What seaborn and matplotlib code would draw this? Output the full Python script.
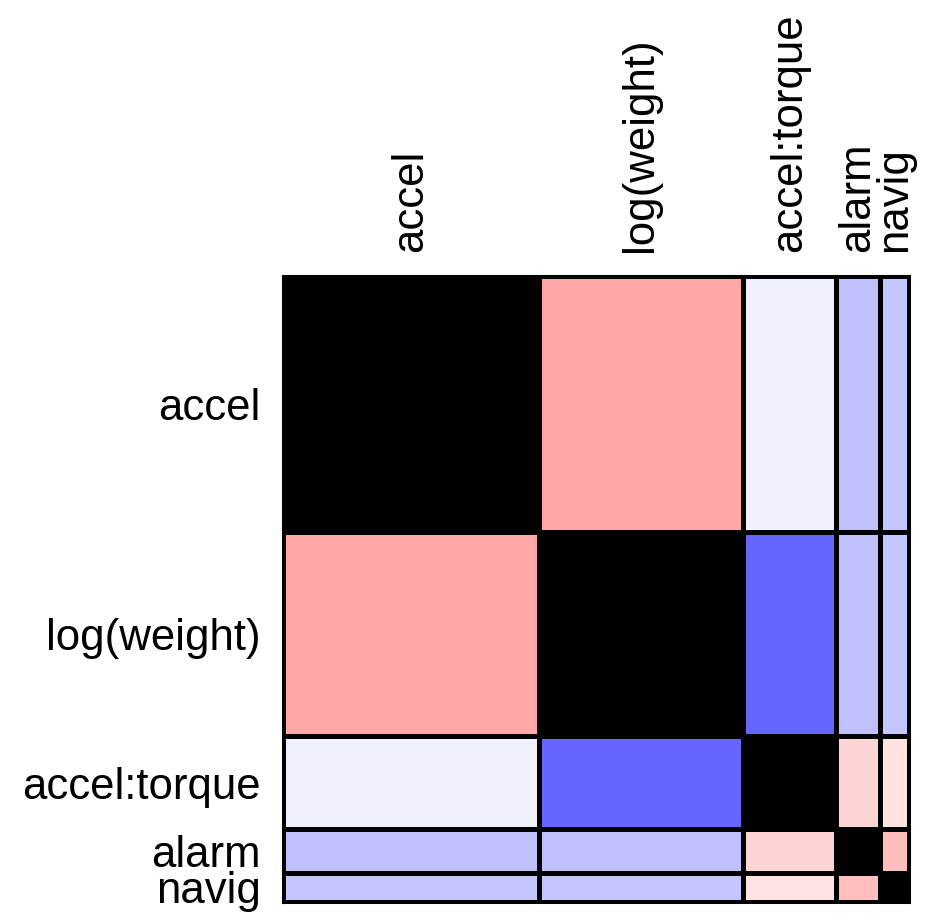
import numpy as np
import matplotlib
matplotlib.use("Agg")
import matplotlib.pyplot as plt
import seaborn as sns
from matplotlib.colors import LinearSegmentedColormap, Normalize

# terms, their relative block sizes, and pairwise correlations
terms = ["accel", "log(weight)", "accel:torque", "alarm", "navig"]
sizes = [256, 204, 93, 44, 29]
corr = [
    [1.00, 0.34, -0.06, -0.25, -0.22],
    [0.34, 1.00, -0.60, -0.25, -0.22],
    [-0.06, -0.60, 1.00, 0.17, 0.11],
    [-0.25, -0.25, 0.17, 1.00, 0.25],
    [-0.22, -0.22, 0.11, 0.25, 1.00],
]

sns.set_theme(style="white")
plt.rcParams["font.family"] = ["Liberation Sans", "DejaVu Sans"]

edges = np.concatenate([[0], np.cumsum(sizes)])
vals = np.array(corr, dtype=float)
# diagonal drawn solid black
vals = np.ma.masked_where(np.eye(len(terms), dtype=bool), vals)

cmap = LinearSegmentedColormap.from_list("bwr_pure", [(0, 0, 1), (1, 1, 1), (1, 0, 0)])
cmap.set_bad("black")

fig = plt.figure(figsize=(9.3, 9.23), dpi=100)
ax = fig.add_axes([283 / 930, 21 / 923, 626 / 930, 626 / 923])
ax.pcolormesh(edges, edges, vals, cmap=cmap, norm=Normalize(-1, 1),
              edgecolors="black", linewidth=2.2)
ax.set_xlim(0, edges[-1])
ax.set_ylim(edges[-1], 0)

centers = (edges[:-1] + edges[1:]) / 2
ax.set_xticks(centers)
ax.set_xticklabels(terms, rotation=90, fontsize=31.5, color="black")
ax.set_yticks(centers)
ax.set_yticklabels(terms, fontsize=31.5, color="black")
ax.xaxis.tick_top()
ax.tick_params(axis="both", length=0)
ax.tick_params(axis="x", pad=17)
ax.tick_params(axis="y", pad=16)
for s in ax.spines.values():
    s.set_color("black")
    s.set_linewidth(2.2)

fig.savefig("out.png", dpi=100)
